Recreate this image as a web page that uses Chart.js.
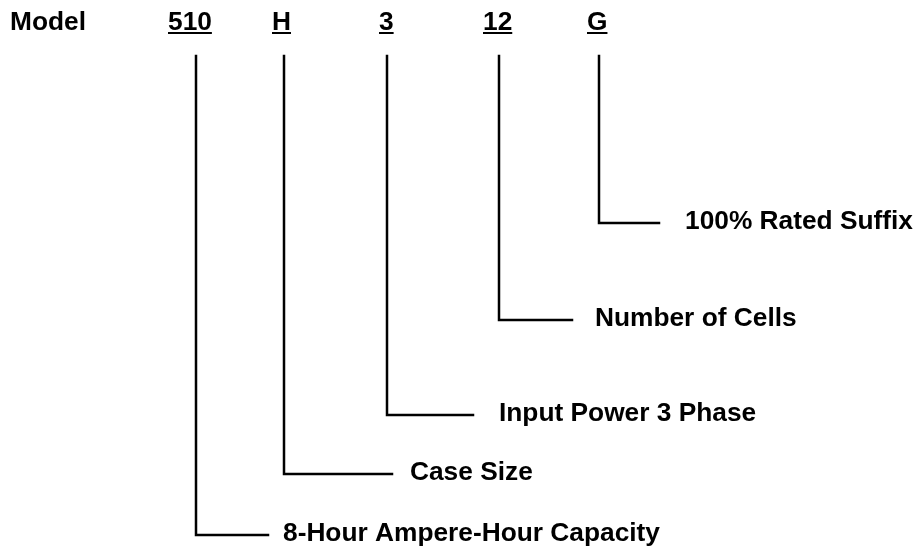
<!DOCTYPE html>
<html>
<head>
<meta charset="utf-8">
<script src="https://cdn.jsdelivr.net/npm/chart.js@4"></script>
<style>
  html, body { margin: 0; padding: 0; background: #fff; }
  #wrap { width: 917px; height: 550px; }
</style>
</head>
<body>
<div id="wrap"><canvas id="chart"></canvas></div>
<script>
// model code parts, left to right
const codes = ["510", "H", "3", "12", "G"]
const codeLeft = [168, 272, 379, 483, 587]
const stemX = [196, 284, 387, 499, 599]
const stemTop = 56

// what each part means, and where its branch turns
const meanings = [
  "8-Hour Ampere-Hour Capacity",
  "Case Size",
  "Input Power 3 Phase",
  "Number of Cells",
  "100% Rated Suffix"
]
const branchY = [535, 474, 415, 320, 223]
const branchEnd = [268, 392, 473, 572, 659]
const meaningLeft = [283, 410, 499, 595, 685]

const FONT = "bold 26.3px 'Liberation Sans', Arial, sans-serif"

const datasets = codes.map((c, i) => ({
  label: c,
  data: [
    { x: stemX[i], y: stemTop },
    { x: stemX[i], y: branchY[i] },
    { x: branchEnd[i], y: branchY[i] }
  ],
  showLine: true,
  borderColor: "#000",
  borderWidth: 2.5,
  pointRadius: 0,
  borderCapStyle: "square",
  borderJoinStyle: "miter"
}))

const textPlugin = {
  id: "labels",
  afterDatasetsDraw(chart) {
    const { ctx, scales: { x, y } } = chart
    ctx.save()
    ctx.font = FONT
    ctx.fillStyle = "#000"
    ctx.textBaseline = "alphabetic"
    ctx.fillText("Model", x.getPixelForValue(10), y.getPixelForValue(30))

    codes.forEach((c, i) => {
      const px = x.getPixelForValue(codeLeft[i])
      const py = y.getPixelForValue(30)
      ctx.fillText(c, px, py)
      const w = ctx.measureText(c).width
      ctx.fillRect(px, py + 2, w, 2)
    })

    meanings.forEach((m, i) => {
      ctx.fillText(m, x.getPixelForValue(meaningLeft[i]), y.getPixelForValue(branchY[i] + 6))
    })
    ctx.restore()
  }
}

new Chart(document.getElementById("chart"), {
  type: "scatter",
  data: { datasets },
  options: {
    responsive: true,
    maintainAspectRatio: false,
    animation: false,
    layout: { padding: 0 },
    plugins: { legend: { display: false }, tooltip: { enabled: false } },
    scales: {
      x: { type: "linear", min: 0, max: 917, display: false },
      y: { type: "linear", min: 0, max: 550, reverse: true, display: false }
    }
  },
  plugins: [textPlugin]
})
</script>
</body>
</html>
